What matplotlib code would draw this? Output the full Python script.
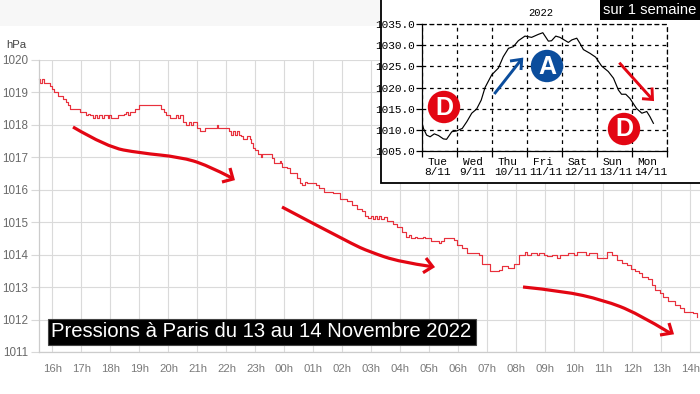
import matplotlib
matplotlib.use("Agg")
import matplotlib.pyplot as plt
from matplotlib.path import Path
from matplotlib.patches import PathPatch, Rectangle, Circle

W, H = 700, 394
RED = "#e30613"
BLUE = "#0b4d9c"

hour_labels = ["16h","17h","18h","19h","20h","21h","22h","23h","00h","01h","02h","03h",
               "04h","05h","06h","07h","08h","09h","10h","11h","12h","13h","14h"]
hpa_ticks = [1011,1012,1013,1014,1015,1016,1017,1018,1019,1020]

# hours since 16h, pressure in hPa
paris_hours = [-0.48,-0.42,-0.36,-0.3,-0.1,-0.03,0.05,0.2,0.35,0.45,0.55,0.62,0.75,0.95,1.15,1.22,1.3,
               1.4,1.48,1.55,1.62,1.72,1.78,1.9,1.96,2.02,2.27,2.45,2.55,2.62,2.68,2.85,3.0,3.76,3.85,3.92,
               4.05,4.25,4.32,4.4,4.5,4.62,4.7,4.78,4.85,4.97,5.09,5.26,5.66,5.72,6.08,6.15,6.22,6.28,6.36,6.42,
               6.5,6.58,6.72,6.8,6.86,6.93,
               6.99,7.1,7.18,7.22,7.56,7.64,7.85,7.88,7.91,8.08,8.2,8.43,8.54,8.62,8.71,8.77,9.08,9.21,9.37,9.69,
               9.92,10.15,10.32,10.5,10.67,10.78,10.9,11.0,11.06,11.14,11.2,11.28,11.34,11.44,11.55,11.75,11.9,12.07,12.18,12.3,
               12.36,12.5,12.56,12.8,12.86,13.05,13.33,13.4,13.5,13.85,13.97,14.14,14.31,14.71,14.83,15.11,15.4,15.52,15.7,15.92,
               16.09,16.3,16.38,16.5,16.7,16.8,16.95,17.05,17.25,17.42,17.5,17.8,18.0,18.1,18.4,18.5,18.8,19.12,
               19.3,19.47,19.64,19.81,19.95,20.1,20.25,20.33,20.53,20.67,20.79,20.96,21.08,21.22,21.48,21.65,21.79,22.11,22.22]
paris_hpa = [1019.4,1019.3,1019.4,1019.3,1019.2,1019.1,1019.0,1018.9,1018.8,1018.7,1018.6,1018.5,1018.5,1018.4,1018.3,1018.35,1018.3,
             1018.2,1018.3,1018.2,1018.3,1018.2,1018.3,1018.2,1018.3,1018.2,1018.3,1018.35,1018.4,1018.3,1018.4,1018.5,1018.6,1018.5,1018.4,1018.3,
             1018.2,1018.3,1018.2,1018.3,1018.1,1018.0,1018.1,1018.0,1018.1,1017.9,1017.8,1017.9,1018.0,1017.9,1017.8,1017.7,1017.8,1017.7,1017.8,1017.7,
             1017.65,1017.55,1017.65,1017.55,1017.45,1017.3,
             1017.23,1017.1,1017.0,1017.1,1016.97,1016.84,1016.9,1016.82,1016.71,1016.66,1016.51,1016.35,1016.22,1016.15,1016.25,1016.2,1016.15,1016.05,1015.94,1015.89,
             1015.71,1015.66,1015.53,1015.41,1015.36,1015.19,1015.12,1015.2,1015.1,1015.2,1015.1,1015.2,1015.1,1015.15,1015.05,1014.95,1014.85,1014.7,1014.55,1014.6,
             1014.5,1014.55,1014.5,1014.55,1014.5,1014.43,1014.35,1014.42,1014.5,1014.45,1014.3,1014.2,1014.05,1014.0,1013.7,1013.5,1013.53,1013.65,1013.6,1013.72,
             1014.0,1014.08,1014.0,1014.05,1014.0,1014.05,1014.0,1013.95,1014.0,1013.9,1014.0,1014.05,1014.0,1014.08,1014.0,1014.05,1013.9,1014.09,
             1013.99,1013.84,1013.75,1013.68,1013.55,1013.51,1013.43,1013.3,1013.24,1013.07,1012.91,1012.83,1012.71,1012.57,1012.45,1012.35,1012.24,1012.19,1012.07]

week_days = [0,.05,.14,.24,.36,.48,.62,.71,.86,1.0,1.16,1.29,1.43,1.57,1.7,1.81,2,2.19,2.33,2.48,2.62,2.76,2.95,
             3.14,3.33,3.46,3.62,3.71,3.83,3.95,4.19,4.29,4.43,4.52,4.62,4.81,4.97,5.14,5.33,5.48,5.62,5.71,5.83,
             5.95,6.14,6.29,6.43,6.52,6.62]
week_hpa = [1011.9,1010.3,1008.7,1008.3,1009,1008.6,1007.8,1007.7,1009.5,1009.7,1010.3,1011.9,1013.9,1014.9,1017,
            1020,1023,1024.6,1027.3,1029.3,1029.7,1031.1,1032.2,1031.9,1032.6,1033,1031,1031.1,1032.2,1031.9,1030.7,
            1031.3,1031.7,1030.5,1029,1028.1,1027.2,1025.1,1023.8,1022.2,1019.4,1018.4,1018.4,1017.4,1015,1013.9,1014.3,
            1013.1,1011.5]
week_ticks = ["1005.0","1010.0","1015.0","1020.0","1025.0","1030.0","1035.0"]
week_names = ["Tue","Wed","Thu","Fri","Sat","Sun","Mon"]
week_dates = ["8/11","9/11","10/11","11/11","12/11","13/11","14/11"]

plt.rcParams["font.family"] = ["Liberation Sans", "DejaVu Sans"]
fig = plt.figure(figsize=(W/100, H/100), dpi=100, facecolor="white")

def rect(l, t, r, b):
    return [l/W, 1-b/H, (r-l)/W, (b-t)/H]

def overlay(z):
    a = fig.add_axes([0, 0, 1, 1], zorder=z)
    a.set_xlim(0, W); a.set_ylim(H, 0); a.axis("off"); a.patch.set_alpha(0)
    return a

# main chart
ax = fig.add_axes(rect(38.5, 60, 700, 352), zorder=1)
ax.set_xlim(-0.483, 22.34)
ax.set_ylim(1011, 1020)
ax.set_xticks(range(len(hour_labels)), hour_labels)
ax.set_yticks(hpa_ticks, [str(v) for v in hpa_ticks])
ax.grid(color="#dadada", lw=0.8)
ax.set_axisbelow(True)
for s in ("top", "right"):
    ax.spines[s].set_visible(False)
for s in ("left", "bottom"):
    ax.spines[s].set_color("#cccccc")
    ax.spines[s].set_linewidth(0.9)
ax.tick_params(axis="y", length=6, width=0.8, color="#d8d8d8", labelcolor="#6a6a6a", labelsize=8.4, pad=1.5)
ax.tick_params(axis="x", length=0, labelcolor="#7a7a7a", labelsize=8.2, pad=9)
ax.plot(paris_hours, paris_hpa, drawstyle="steps-post", color="#e8303c", lw=0.85, clip_on=False)

back = overlay(2)
back.add_patch(Rectangle((0, 0), 381, 26, color="#f7f7f7", lw=0))
back.add_patch(Rectangle((381, -2), 325, 185, facecolor="white", edgecolor="black", lw=1.3))
back.text(6, 45, "hPa", fontsize=8.2, color="#444444", va="center", ha="left")

# week inset
ins = fig.add_axes(rect(421.7, 24.3, 666.7, 150.7), zorder=3)
ins.set_xlim(0, 7); ins.set_ylim(1005, 1035)
ins.patch.set_alpha(0)
ins.set_xticks(range(8), [""]*8)
ins.set_yticks([1005,1010,1015,1020,1025,1030,1035], week_ticks, family="Liberation Mono")
ins.tick_params(axis="both", length=4.5, width=0.9, color="black", labelsize=8, labelcolor="black", pad=0.5)
ins.grid(color="black", ls=(0, (3, 3)), lw=0.9)
for s in ("top", "right"):
    ins.spines[s].set_linestyle((0, (3, 3)))
    ins.spines[s].set_linewidth(0.9)
for s in ("left", "bottom"):
    ins.spines[s].set_linewidth(0.9)
ins.plot(week_days, week_hpa, color="black", lw=0.85)
ins.text(3.39, 1037.6, "2022", family="Liberation Mono", fontsize=7.6, ha="center", va="center")
for i, (n, d) in enumerate(zip(week_names, week_dates)):
    off = 0.45 if len(d) == 4 else 0.55
    ins.text(i+0.45, 1002.2, n, family="Liberation Mono", fontsize=8, ha="center", va="center", clip_on=False)
    ins.text(i+off, 999.85, d, family="Liberation Mono", fontsize=8, ha="center", va="center", clip_on=False)

# annotations, in figure pixels
top = overlay(4)

def curve(points, color=RED, lw=2.3):
    verts = [points[0]]
    codes = [Path.MOVETO]
    for i in range(1, len(points)-1):
        a, b = points[i], points[i+1]
        mid = b if i == len(points)-2 else ((a[0]+b[0])/2, (a[1]+b[1])/2)
        verts += [a, mid]
        codes += [Path.CURVE3, Path.CURVE3]
    if len(points) == 2:
        verts.append(points[1]); codes.append(Path.LINETO)
    top.add_patch(PathPatch(Path(verts, codes), fill=False, edgecolor=color, lw=lw, capstyle="butt"))

def head(points, color=RED, lw=2.3):
    top.plot([p[0] for p in points], [p[1] for p in points], color=color, lw=lw,
             solid_joinstyle="miter", solid_capstyle="butt")

curve([(73,127),(107,147),(140,153),(180,157),(207,165),(232,178)])
head([(222,182),(233,179),(230,168)])
curve([(282,207),(350,243),(370,252),(400,262),(431,266.5)])
head([(426,258),(432.7,266.7),(423,272.7)])
curve([(523,287),(563,291),(603,300),(637,313),(670,333)])
head([(669,323),(672,333),(660,335)])
curve([(494.3,94),(521,60)], BLUE, 2.1)
head([(510,61),(521.7,59.3),(521,70)], BLUE, 2.1)
curve([(619.3,62.7),(652,99)], RED, 2.1)
head([(642,98.7),(652.5,99.5),(652,87.5)], RED, 2.1)

badges = [(444, 107, "D", RED), (547, 66, "A", BLUE), (624, 129, "D", RED)]
for x, y, s, c in badges:
    top.add_patch(Circle((x, y), 16.2, color=c, lw=0))
    top.text(x, y+0.5, s, color="white", fontsize=18, fontweight="bold", ha="center", va="center")

top.add_patch(Rectangle((600, 0), 100, 20, color="black", lw=0))
top.text(603, 9.5, "sur 1 semaine", color="white", fontsize=10.7, ha="left", va="center")
top.add_patch(Rectangle((47.5, 319), 428.5, 26, facecolor="black", edgecolor="#444444", lw=0.8))
top.text(51, 331.5, "Pressions à Paris du 13 au 14 Novembre 2022", color="white", fontsize=14.6, ha="left", va="center")

fig.savefig("out.png", dpi=100)
